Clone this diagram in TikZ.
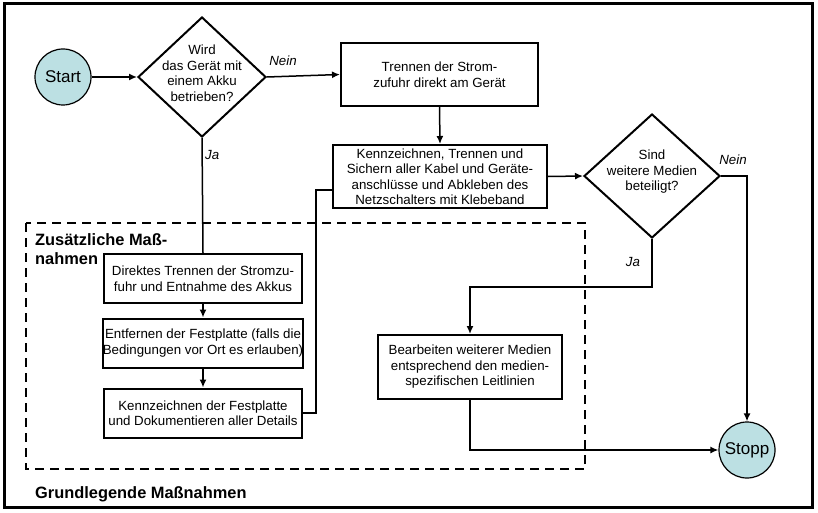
\documentclass[tikz,border=0pt]{standalone}
\usepackage{fontspec}
\setmainfont{Liberation Sans}
\usetikzlibrary{arrows.meta,shapes.geometric}
\definecolor{termfill}{RGB}{188,224,227}
\begin{document}
\begin{tikzpicture}[x=1pt,y=-1pt,
  every node/.style={font=\fontsize{13.3}{15.5}\selectfont},
  box/.style={draw, line width=2pt, align=center, inner sep=0pt},
  dia/.style={draw, diamond, line width=2pt, inner sep=0pt},
  dtext/.style={align=center, inner sep=0pt},
  term/.style={draw, circle, fill=termfill, line width=1.2pt, minimum size=56pt, inner sep=0pt, font=\fontsize{17}{19}\selectfont},
  conn/.style={line width=1.5pt},
  arr/.style={conn, -{Latex[length=8pt,width=7pt]}},
  lbl/.style={font=\fontsize{13.3}{15.5}\selectfont\itshape, inner sep=0pt},
  ttl/.style={font=\fontsize{16.4}{19.5}\selectfont\bfseries, align=left, anchor=west, inner sep=0pt}]
\useasboundingbox (0,0) rectangle (818,513);
% frames
\draw[line width=3pt] (4,4) rectangle (812,507);
\draw[line width=2pt, dash pattern=on 9pt off 6pt] (26,223) rectangle (585,469);
\node[ttl] (t1) at (35,249) {Zusätzliche Maß-\\nahmen};
\node[ttl] (t2) at (35,494) {Grundlegende Maßnahmen};
% nodes
\node[term] (start) at (63,77) {Start};
\node[dia, minimum width=128pt, minimum height=120pt] (d1) at (202,77) {};
\node[dtext] (d1t) at (202,73) {Wird\\das Gerät mit\\einem Akku\\betrieben?};
\node[box, minimum width=197pt, minimum height=63pt] (b1) at (439.5,74.5) {Trennen der Strom-\\zufuhr direkt am Gerät};
\node[box, minimum width=214pt, minimum height=63pt] (b2) at (440,176.5) {Kennzeichnen, Trennen und\\Sichern aller Kabel und Geräte-\\anschlüsse und Abkleben des\\Netzschalters mit Klebeband};
\node[dia, minimum width=136pt, minimum height=124pt] (d2) at (652,176) {};
\node[dtext] (d2t) at (652,172) {Sind\\weitere Medien\\beteiligt?};
\node[box, minimum width=198pt, minimum height=49pt] (a1) at (203,278.5) {Direktes Trennen der Stromzu-\\fuhr und Entnahme des Akkus};
\node[box, minimum width=198pt, minimum height=49pt] (a2) at (203,343) {Entfernen der Festplatte (falls die\\Bedingungen vor Ort es erlauben)};
\node[box, minimum width=198pt, minimum height=49pt] (a3) at (203,413) {Kennzeichnen der Festplatte\\und Dokumentieren aller Details};
\node[box, minimum width=184pt, minimum height=64pt] (b3) at (470,367) {Bearbeiten weiterer Medien\\entsprechend den medien-\\spezifischen Leitlinien};
\node[term] (stop) at (747,450) {Stopp};
% labels
\node[lbl] (n1) at (283,61) {Nein};
\node[lbl, anchor=west] (j1) at (205,155) {Ja};
\node[lbl] (n2) at (733,160) {Nein};
\node[lbl] (j2) at (633,262) {Ja};
% coordinates
\coordinate (k1) at (316,190);
\coordinate (c2) at (652,287);
% connectors
\draw[arr] (start) -- (d1.west);
\draw[arr] (d1.east) -- (b1.west);
\draw[arr] (b1.south) -- (b2.north);
\draw[arr] (b2.east) -- (d2.west);
\draw[arr] (d2.east) -| (stop.north);
\draw[arr] (d2.south) -- (c2) -| (b3.north);
\draw[arr] (b3.south) |- (stop.west);
\draw[conn] (d1.south) -- (a1.north);
\draw[arr] (a1.south) -- (a2.north);
\draw[arr] (a2.south) -- (a3.north);
\draw[conn] (a3.east) -| (k1) -- (k1 -| b2.west);
\end{tikzpicture}
\end{document}
